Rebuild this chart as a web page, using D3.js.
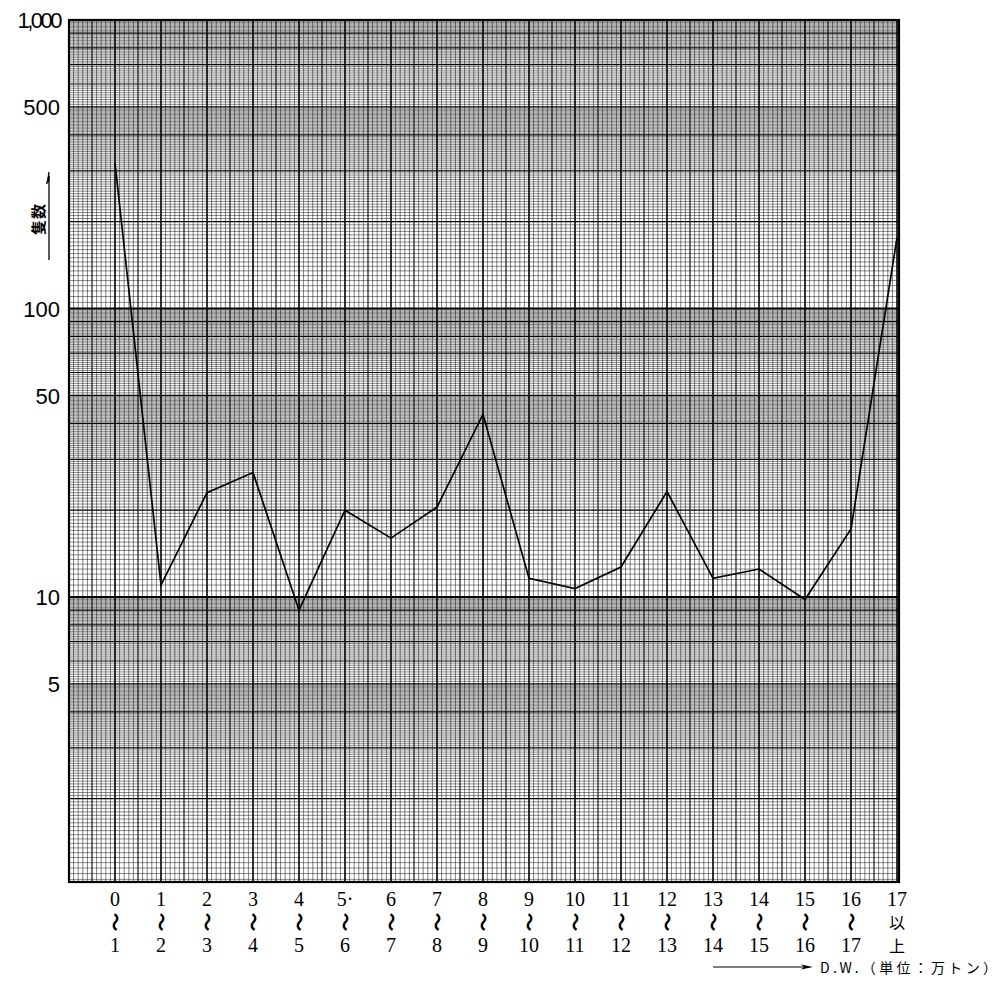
<!DOCTYPE html>
<html><head><meta charset="utf-8">
<script src="https://cdn.jsdelivr.net/npm/d3@7/dist/d3.min.js"></script>
<style>
html,body{margin:0;padding:0;background:#fff;}
svg{display:block;}
</style></head>
<body>
<svg id="chart" width="1005" height="994"></svg>
<script>
// ---- data ----
const categories = ["0～1","1～2","2～3","3～4","4～5","5～6","6～7","7～8","8～9","9～10","10～11","11～12","12～13","13～14","14～15","15～16","16～17","17以上"];
const tickTop    = ["0","1","2","3","4","5·","6","7","8","9","10","11","12","13","14","15","16","17"];
const tickMid    = ["～","～","～","～","～","～","～","～","～","～","～","～","～","～","～","～","～","以"];
const tickBottom = ["1","2","3","4","5","6","7","8","9","10","11","12","13","14","15","16","17","上"];
const shipCounts = [320, 11, 23, 27, 9, 20, 16, 20.5, 43, 11.6, 10.7, 12.7, 23.2, 11.6, 12.5, 9.8, 17.2, 176];
const yTickValues = [1000, 500, 100, 50, 10, 5];
const yLabel = "隻数";
const xLabel = "D.W.（単位：万トン）";

// ---- layout ----
const svg = d3.select("#chart");
const plotTop = 20, plotBottom = 882;
const x = d3.scalePoint().domain(categories).range([115, 897]);
const step = x.step();
const left = x(categories[0]) - step;
const right = x(categories[categories.length - 1]) + 2;
const y = d3.scaleLog().domain([1, 1000]).range([885.5, plotTop]);

const grid = svg.append("g");

// horizontal log-paper lines
const hFine = [];
[1, 10, 100].forEach(d => {
  d3.range(1, 5, 0.05).forEach(v => hFine.push(+(v * d).toFixed(4)));
  d3.range(5, 10, 0.1).forEach(v => hFine.push(+(v * d).toFixed(4)));
});
hFine.push(1000);
const isInt = v => Math.abs(v - Math.round(v)) < 1e-6;
grid.selectAll("line.hf").data(hFine.filter(v => y(v) <= plotBottom && y(v) >= plotTop))
  .join("line")
  .attr("x1", left).attr("x2", right)
  .attr("y1", d => y(d)).attr("y2", d => y(d))
  .attr("stroke", "#000")
  .attr("stroke-width", d => {
    const l = Math.log10(d);
    if (isInt(l)) return 2;
    const m = d / Math.pow(10, Math.floor(l + 1e-9));
    if (isInt(m)) return 1.2;
    return 0.45;
  });

// vertical lines
const vIdx = d3.range(0, (categories.length) * 10 + 1);
grid.selectAll("line.vf").data(vIdx)
  .join("line")
  .attr("x1", i => left + i * step / 10).attr("x2", i => left + i * step / 10)
  .attr("y1", plotTop).attr("y2", plotBottom)
  .attr("stroke", "#000")
  .attr("stroke-width", i => i % 10 === 0 ? 1.6 : (i % 5 === 0 ? 1.1 : 0.5));

// frame
svg.append("rect")
  .attr("x", left).attr("y", plotTop)
  .attr("width", right - left).attr("height", plotBottom - plotTop)
  .attr("fill", "none").attr("stroke", "#000").attr("stroke-width", 2.2);

// data line
const line = d3.line().x((d, i) => x(categories[i])).y(d => y(d));
svg.append("path")
  .datum(shipCounts)
  .attr("d", line)
  .attr("fill", "none").attr("stroke", "#000").attr("stroke-width", 1.7)
  .attr("stroke-linejoin", "miter");

// y axis labels
const yAxis = d3.axisLeft(y).tickValues(yTickValues)
  .tickFormat(d3.format(",")).tickSize(0).tickPadding(0);
const ga = svg.append("g").attr("transform", `translate(60,0)`).call(yAxis);
ga.select(".domain").remove();
ga.selectAll("text")
  .attr("font-family", "'Liberation Sans', Arial, sans-serif")
  .attr("font-size", 22).attr("fill", "#000")
  .attr("letter-spacing", d => d >= 1000 ? -2.5 : 0)
  .attr("dy", "0.36em");

// y label with arrow
const yl = svg.append("g");
yl.append("text")
  .attr("transform", "translate(39,219) rotate(-90)")
  .attr("text-anchor", "middle").attr("dy", "0.35em")
  .attr("font-family", "'Noto Sans CJK JP', sans-serif")
  .attr("font-size", 15).attr("font-weight", "bold")
  .attr("letter-spacing", 1)
  .text(yLabel);
yl.append("line").attr("x1", 49).attr("x2", 49).attr("y1", 260).attr("y2", 176)
  .attr("stroke", "#000").attr("stroke-width", 1.3);
yl.append("path").attr("d", "M49,172 L46.5,184 L49,181 Z").attr("fill", "#000").attr("stroke", "#000").attr("stroke-width", 0.8);

// x axis labels (three rows)
const gx = svg.append("g");
const serif = "'Liberation Serif', 'Times New Roman', serif";
const cjk = "'Noto Sans CJK JP', sans-serif";
categories.forEach((c, i) => {
  const cx = x(c);
  gx.append("text").attr("x", cx).attr("y", 906).attr("text-anchor", "middle")
    .attr("font-family", serif).attr("font-size", 20).text(tickTop[i]);
  if (tickMid[i] === "～") {
    gx.append("text").attr("transform", `translate(${cx},922) rotate(90)`)
      .attr("text-anchor", "middle").attr("dy", "0.35em")
      .attr("font-family", cjk).attr("font-size", 19).attr("font-weight", "bold")
      .text(tickMid[i]);
  } else {
    gx.append("text").attr("x", cx).attr("y", 929).attr("text-anchor", "middle")
      .attr("font-family", cjk).attr("font-size", 16)
      .text(tickMid[i]);
  }
  gx.append("text").attr("x", cx).attr("y", 952).attr("text-anchor", "middle")
    .attr("font-family", tickBottom[i] === "上" ? cjk : serif)
    .attr("font-size", tickBottom[i] === "上" ? 16 : 20).text(tickBottom[i]);
});

// x label with arrow
svg.append("line").attr("x1", 713).attr("x2", 808).attr("y1", 967).attr("y2", 967)
  .attr("stroke", "#000").attr("stroke-width", 1.2);
svg.append("path").attr("d", "M813,967 L801,964.5 L804,967 L801,969.5 Z").attr("fill", "#000");
svg.append("text").attr("x", 820).attr("y", 968).attr("dy", "0.35em")
  .attr("font-family", cjk).attr("font-size", 14)
  .attr("letter-spacing", 3.3)
  .text(xLabel);
</script>
</body></html>
